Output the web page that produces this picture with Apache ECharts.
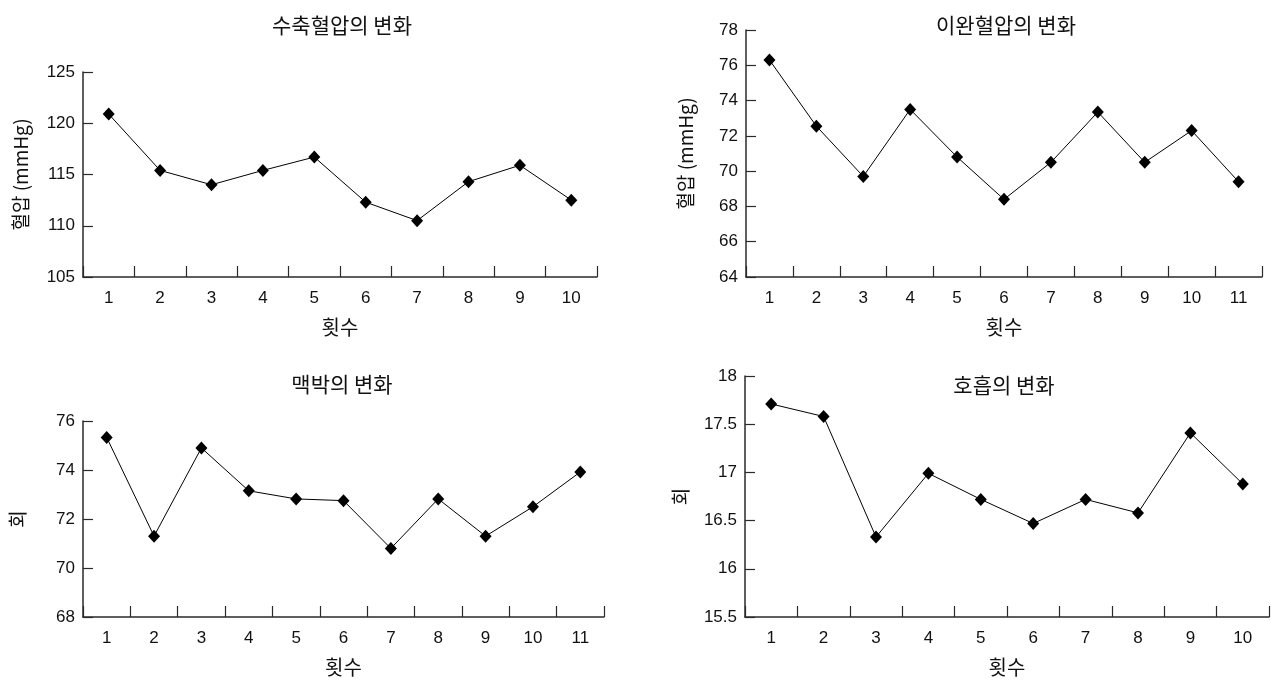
<!DOCTYPE html>
<html>
<head>
<meta charset="utf-8">
<script src="https://cdn.jsdelivr.net/npm/echarts@6/dist/echarts.min.js"></script>
<style>
html,body{margin:0;padding:0;background:#fff;}
#chart{width:1271px;height:682px;}
</style>
</head>
<body>
<div id="chart"></div>
<script>
// ---- data ----
const titles = ['수축혈압의 변화', '이완혈압의 변화', '맥박의 변화', '호흡의 변화'];
const yNames = ['혈압 (mmHg)', '혈압 (mmHg)', '회', '회'];
const xName = '횟수';

const cats10 = ['1','2','3','4','5','6','7','8','9','10'];
const cats11 = ['1','2','3','4','5','6','7','8','9','10','11'];

const systolic  = [120.9, 115.4, 114.0, 115.4, 116.7, 112.3, 110.5, 114.3, 115.9, 112.5];
const diastolic = [76.3, 72.55, 69.7, 73.5, 70.8, 68.4, 70.5, 73.35, 70.5, 72.3, 69.4];
const pulse     = [75.33, 71.3, 74.9, 73.15, 72.82, 72.75, 70.8, 72.82, 71.3, 72.5, 73.92];
const resp      = [17.71, 17.58, 16.33, 16.99, 16.72, 16.47, 16.72, 16.58, 17.41, 16.88];

const yMin = [105, 64, 68, 15.5];
const yMax = [125, 78, 76, 18];
const yInt = [5, 2, 2, 0.5];

// ---- layout ----
const grids = [
  {left: 83,  top: 72,  width: 514, height: 205},
  {left: 746, top: 30,  width: 516, height: 247},
  {left: 83,  top: 421, width: 521, height: 196},
  {left: 745, top: 376, width: 524, height: 241}
];
const titlePos = [
  {x: 337, y: 10}, {x: 1001, y: 10}, {x: 337, y: 369}, {x: 999, y: 370}
];
const nameGaps = [53, 51, 56, 55];
const catsList = [cats10, cats11, cats11, cats10];
const seriesList = [systolic, diastolic, pulse, resp];

const axisColor = '#2a2a2a';
const txtColor = '#111';
const numFont = 'Liberation Sans, Arial, sans-serif';
const krFont = 'Noto Sans CJK KR, sans-serif';

const option = {
  backgroundColor: '#fff',
  animation: false,
  title: titles.map((t, i) => ({
    text: t,
    left: titlePos[i].x,
    top: titlePos[i].y,
    textAlign: 'center',
    textStyle: {fontFamily: krFont, fontSize: 21, fontWeight: 'normal', color: txtColor}
  })),
  grid: grids.map(g => Object.assign({containLabel: false}, g)),
  xAxis: catsList.map((c, i) => ({
    type: 'category',
    gridIndex: i,
    data: c,
    boundaryGap: true,
    name: xName,
    nameLocation: 'middle',
    nameGap: 40,
    nameTextStyle: {fontFamily: krFont, fontSize: 20, color: txtColor},
    axisLine: {show: true, lineStyle: {color: axisColor, width: 1.5}},
    axisTick: {show: true, inside: true, length: 11, lineStyle: {color: axisColor, width: 1.2}},
    axisLabel: {fontFamily: numFont, fontSize: 17, color: txtColor, margin: 13},
    splitLine: {show: false}
  })),
  yAxis: seriesList.map((s, i) => ({
    type: 'value',
    gridIndex: i,
    min: yMin[i],
    max: yMax[i],
    interval: yInt[i],
    name: yNames[i],
    nameLocation: 'middle',
    nameRotate: 90,
    nameGap: nameGaps[i],
    nameTextStyle: {fontFamily: krFont, fontSize: 19, color: txtColor},
    axisLine: {show: true, lineStyle: {color: axisColor, width: 1.5}},
    axisTick: {show: true, inside: true, length: 10, lineStyle: {color: axisColor, width: 1.2}},
    axisLabel: {fontFamily: numFont, fontSize: 17, color: txtColor, margin: 8},
    splitLine: {show: false}
  })),
  series: seriesList.map((s, i) => ({
    type: 'line',
    xAxisIndex: i,
    yAxisIndex: i,
    data: s,
    symbol: 'diamond',
    symbolSize: [12, 13],
    showAllSymbol: true,
    itemStyle: {color: '#000'},
    lineStyle: {color: '#000', width: 1}
  }))
};

const chart = echarts.init(document.getElementById('chart'), null, {renderer: 'canvas'});
chart.setOption(option);
</script>
</body>
</html>
